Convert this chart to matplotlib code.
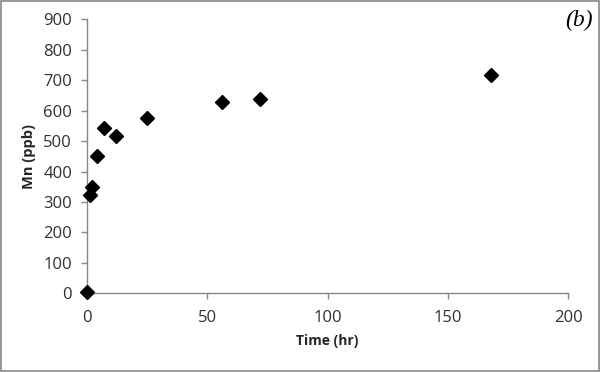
import matplotlib
matplotlib.use('Agg')
import matplotlib.pyplot as plt
from matplotlib.patches import Rectangle

# Mn release over time
time_hr = [0, 1, 2, 4, 7, 12, 25, 56, 72, 168]
mn_ppb = [3, 322, 349, 452, 543, 517, 576, 630, 638, 716]

x_ticks = [0, 50, 100, 150, 200]
y_ticks = [0, 100, 200, 300, 400, 500, 600, 700, 800, 900]

plt.rcParams['font.family'] = ['Open Sans', 'DejaVu Sans']

fig = plt.figure(figsize=(6, 3.72), dpi=100)
ax = fig.add_axes([0.1455, 0.2116, 0.8012, 0.7365])

ax.plot(time_hr, mn_ppb, linestyle='none', marker='D', markersize=7,
        color='black', clip_on=False, zorder=3)

ax.set_xlim(0, 200)
ax.set_ylim(0, 900)
ax.set_xticks(x_ticks)
ax.set_yticks(y_ticks)

for s in ['top', 'right']:
    ax.spines[s].set_visible(False)
for s in ['left', 'bottom']:
    ax.spines[s].set_color('#868686')
    ax.spines[s].set_linewidth(1.0)

ax.tick_params(axis='both', colors='#868686', labelcolor='#303030',
               labelsize=12, length=4, width=1.0, direction='out')
ax.tick_params(axis='y', pad=7)
ax.tick_params(axis='x', pad=8)

ax.set_xlabel('Time (hr)', fontsize=10, fontweight='bold', color='#262626', labelpad=6)
ax.set_ylabel('Mn (ppb)', fontsize=10.5, fontweight='bold', color='#262626', labelpad=5)

fig.text(0.988, 0.945, '(b)', ha='right', va='center', fontsize=17,
         style='italic', family='Liberation Serif', color='black')

# outer border of the chart area
fig.patches.append(Rectangle((0.002, 0.003), 0.996, 0.994, transform=fig.transFigure,
                             fill=False, edgecolor='#868686', linewidth=1.2))

fig.savefig('out.png', dpi=100)
